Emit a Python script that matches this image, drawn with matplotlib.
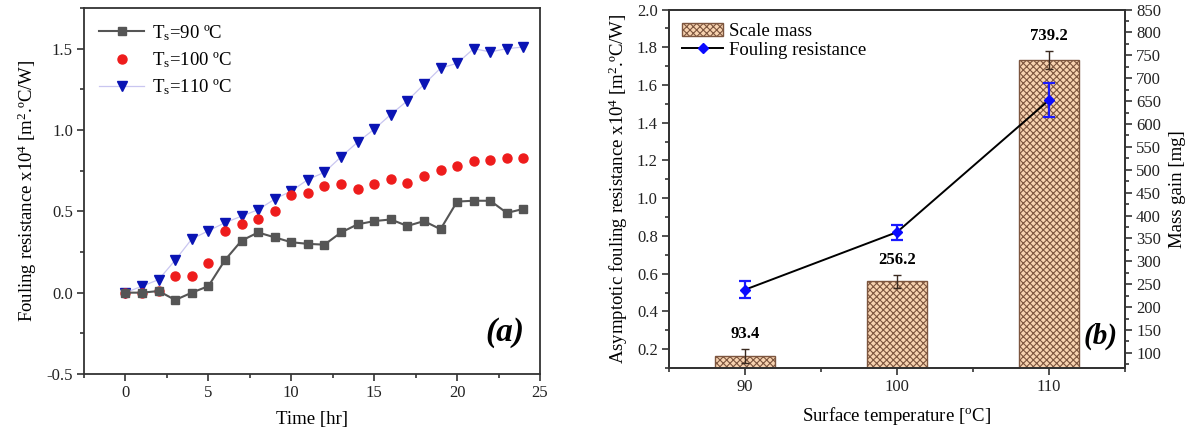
import matplotlib
matplotlib.use("Agg")
import matplotlib.pyplot as plt
from matplotlib.ticker import MultipleLocator
import numpy as np

plt.rcParams['font.family'] = ['Liberation Serif', 'DejaVu Serif']
plt.rcParams['mathtext.fontset'] = 'custom'
plt.rcParams['mathtext.rm'] = 'Liberation Serif'
plt.rcParams['mathtext.it'] = 'Liberation Serif:italic'
plt.rcParams['mathtext.bf'] = 'Liberation Serif:bold'
plt.rcParams['hatch.linewidth'] = 0.8

# (a) fouling resistance vs time
time_hr = np.arange(0, 25)
rf_90 = [0.0, 0.0, 0.01, -0.045, 0.0, 0.04, 0.20, 0.32, 0.37, 0.34, 0.31, 0.30,
         0.295, 0.37, 0.42, 0.44, 0.45, 0.41, 0.44, 0.39, 0.56, 0.565, 0.565,
         0.49, 0.515]
rf_100 = [0.0, -0.005, 0.01, 0.10, 0.10, 0.18, 0.38, 0.42, 0.45, 0.505, 0.60,
          0.615, 0.655, 0.665, 0.635, 0.67, 0.70, 0.675, 0.715, 0.755, 0.78,
          0.81, 0.815, 0.825, 0.825]
rf_110 = [0.0, 0.04, 0.08, 0.20, 0.33, 0.38, 0.43, 0.47, 0.51, 0.575, 0.625,
          0.695, 0.74, 0.835, 0.925, 1.005, 1.095, 1.18, 1.28, 1.38, 1.41,
          1.50, 1.48, 1.50, 1.51]

# (b) asymptotic values per surface temperature
surf_temp = [90, 100, 110]
scale_mass = [93.4, 256.2, 739.2]
scale_mass_err = [16, 15, 20]
rf_asym = [0.515, 0.82, 1.52]
rf_asym_err = [0.045, 0.04, 0.09]

spine_c = '#333333'


def style_axis(ax):
    for s in ax.spines.values():
        s.set_linewidth(1.3)
        s.set_color(spine_c)
    ax.tick_params(which='both', direction='out', width=1.2, colors=spine_c,
                   labelcolor='#222222', labelsize=12, pad=3)
    ax.tick_params(which='major', length=5)
    ax.tick_params(which='minor', length=3)


fig = plt.figure(figsize=(11.95, 4.36), dpi=100)

# ---- panel (a)
ax1 = fig.add_axes([0.0703, 0.1422, 0.3816, 0.8395])
ax1.plot(time_hr, rf_110, '-', color='#c9c6f0', lw=0.9, marker='v',
         mfc='#0a14b4', mec='#0a14b4', ms=7.5, label='T$_\\mathrm{s}$=110 ºC', zorder=2)
ax1.plot(time_hr, rf_100, 'o', color='#ee1c1c', ms=6.5,
         label='T$_\\mathrm{s}$=100 ºC', zorder=3)
ax1.plot(time_hr, rf_90, '-', color='#555555', lw=1.5, marker='s', ms=5.5,
         label='T$_\\mathrm{s}$=90 ºC', zorder=4)
ax1.set_xlim(-2.5, 25)
ax1.set_ylim(-0.5, 1.75)
ax1.xaxis.set_major_locator(MultipleLocator(5))
ax1.xaxis.set_minor_locator(MultipleLocator(2.5))
ax1.yaxis.set_minor_locator(MultipleLocator(0.25))
ax1.set_yticks([-0.5, 0.0, 0.5, 1.0, 1.5])
ax1.set_yticklabels(['-0.5', '0.0', '0.5', '1.0', '1.5'])
style_axis(ax1)
ax1.set_xlabel('Time [hr]', fontsize=13.5, labelpad=7)
ax1.set_ylabel('Fouling resistance x10$^{4}$ [m$^{2}$.ºC/W]', fontsize=13.5, labelpad=5)
h, l = ax1.get_legend_handles_labels()
ax1.legend(h[::-1], l[::-1], loc='upper left', bbox_to_anchor=(0.0, 1.0),
           frameon=False, fontsize=13.5, handlelength=2.4, labelspacing=0.4,
           handletextpad=0.4, borderaxespad=0.4)
ax1.text(0.965, 0.07, '(a)', transform=ax1.transAxes, ha='right', va='bottom',
         fontsize=24, fontweight='bold', fontstyle='italic')

# ---- panel (b)
ax2 = fig.add_axes([0.5598, 0.156, 0.3816, 0.822])
ax3 = ax2.twinx()
ax2.set_zorder(ax3.get_zorder() + 1)
ax2.patch.set_visible(False)

bars = ax3.bar(surf_temp, scale_mass, width=4, color='#f8d3b0',
               edgecolor='#7d563f', hatch='xxxxx', linewidth=1.0,
               label='Scale mass', zorder=2)
ax3.errorbar(surf_temp, scale_mass, yerr=scale_mass_err, fmt='none',
             ecolor='#3a2a20', elinewidth=1.0, capsize=3, capthick=1.0, zorder=3)
for x, m, e in zip(surf_temp, scale_mass, scale_mass_err):
    ax3.annotate(f'{m:.1f}', xy=(x, m + e), xytext=(0, 5), textcoords='offset points',
                 ha='center', va='bottom', fontsize=12, fontweight='bold')

ax2.errorbar(surf_temp, rf_asym, yerr=rf_asym_err, fmt='none', ecolor='#1a1aff',
             elinewidth=1.6, capsize=4.5, capthick=1.6, zorder=3)
ax2.plot(surf_temp, rf_asym, '-', color='black', lw=1.4, marker='D', mfc='#0a0aff',
         mec='#0a0aff', ms=5.5, label='Fouling resistance', zorder=4)

ax2.set_xlim(85, 115)
ax2.set_ylim(0.1, 2.0)
ax3.set_ylim(67, 850)
ax2.set_xticks(surf_temp)
ax2.xaxis.set_minor_locator(MultipleLocator(5))
ax2.yaxis.set_minor_locator(MultipleLocator(0.1))
ax2.set_yticks(np.arange(0.2, 2.01, 0.2))
ax3.yaxis.set_minor_locator(MultipleLocator(25))
ax3.set_yticks(np.arange(100, 851, 50))
style_axis(ax2)
style_axis(ax3)
ax2.set_xlabel('Surface temperature [$^{\\mathrm{o}}$C]', fontsize=13.5, labelpad=7)
ax2.set_ylabel('Asymptotic fouling resistance x10$^{4}$ [m$^{2}$.ºC/W]', fontsize=13.5,
               labelpad=5)
ax3.set_ylabel('Mass gain [mg]', fontsize=13.5, labelpad=6)

ax2.legend([bars, ax2.lines[-1]], ['Scale mass', 'Fouling resistance'],
           loc='upper left', bbox_to_anchor=(0.0, 1.0), frameon=False, fontsize=13.5,
           handlelength=2.2, labelspacing=0.1, handletextpad=0.3, borderaxespad=0.3)
ax2.text(0.985, 0.05, '(b)', transform=ax2.transAxes, ha='right', va='bottom',
         fontsize=21, fontweight='bold', fontstyle='italic')

fig.savefig('out.png', dpi=100)
